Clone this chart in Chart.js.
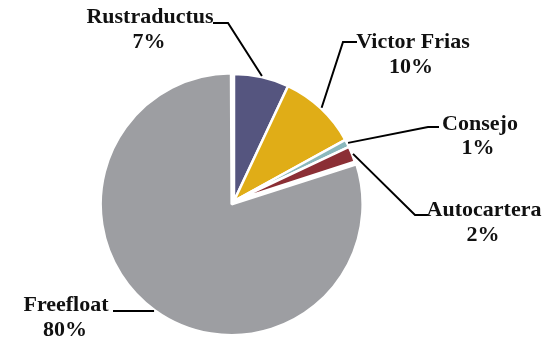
<!DOCTYPE html>
<html>
<head>
<meta charset="utf-8">
<script src="https://cdn.jsdelivr.net/npm/chart.js@4/dist/chart.umd.min.js"></script>
<style>
  html, body { margin: 0; padding: 0; background: #fff; }
  #wrap { width: 548px; height: 338px; }
</style>
</head>
<body>
<div id="wrap"><canvas id="myChart" width="548" height="338"></canvas></div>
<script>
const categories = ['Rustraductus', 'Victor Frias', 'Consejo', 'Autocartera', 'Freefloat'];
const shares = [7, 10, 1, 2, 80];
const sliceColors = ['#55557f', '#e0ad17', '#8ab8bc', '#8b2f35', '#9d9ea2'];

// label placement: name centre, percent centre, leader elbow and end
const labelLayout = [
    { name: [150, 17], pct: [149, 42], elbow: [228, 23], end: [213, 23] },
    { name: [413, 42], pct: [411, 67], elbow: [343, 42], end: [357, 42] },
    { name: [480, 124], pct: [478, 148], elbow: [428, 127], end: [439, 127] },
    { name: [484, 210], pct: [483, 235], elbow: [415, 215], end: [428, 215] },
    { name: [66, 305], pct: [65, 330], elbow: [113, 311], end: [113, 311] },
];

const calloutLabels = {
    id: 'calloutLabels',
    afterDatasetsDraw(chart) {
        const ctx = chart.ctx;
        const meta = chart.getDatasetMeta(0);
        ctx.save();
        meta.data.forEach((arc, i) => {
            const p = arc.getProps(['x', 'y', 'startAngle', 'endAngle', 'outerRadius', 'circumference'], true);
            const mid = (p.startAngle + p.endAngle) / 2;
            // same shift the arc element applies for its offset
            const off = (arc.options.offset || 0) / 4;
            const fix = 1 - Math.sin(Math.min(Math.PI, p.circumference || 0));
            const shift = off + off * fix;
            const r = p.outerRadius + 1;
            const sx = p.x + Math.cos(mid) * (r + shift);
            const sy = p.y + Math.sin(mid) * (r + shift);
            const lay = labelLayout[i];

            ctx.strokeStyle = '#000';
            ctx.lineWidth = 2;
            ctx.beginPath();
            ctx.moveTo(sx, sy);
            ctx.lineTo(lay.elbow[0], lay.elbow[1]);
            ctx.lineTo(lay.end[0], lay.end[1]);
            ctx.stroke();

            ctx.fillStyle = '#111';
            ctx.font = 'bold 22px "Liberation Serif"';
            ctx.textAlign = 'center';
            ctx.textBaseline = 'middle';
            ctx.fillText(categories[i], lay.name[0], lay.name[1]);
            ctx.fillText(shares[i] + '%', lay.pct[0], lay.pct[1]);
        });
        ctx.restore();
    }
};

const ctx = document.getElementById('myChart').getContext('2d');
const myChart = new Chart(ctx, {
    type: 'pie',
    data: {
        labels: categories,
        datasets: [{
            data: shares,
            backgroundColor: sliceColors,
            borderColor: '#fff',
            borderWidth: 2.5,
            offset: [0, 0, 0, 0, 16],
        }]
    },
    options: {
        responsive: false,
        devicePixelRatio: 1,
        animation: false,
        radius: 127,
        layout: { padding: { left: 0, right: 80, top: 64, bottom: 0 } },
        plugins: {
            legend: { display: false },
            tooltip: { enabled: false },
        },
    },
    plugins: [calloutLabels],
});
</script>
</body>
</html>
